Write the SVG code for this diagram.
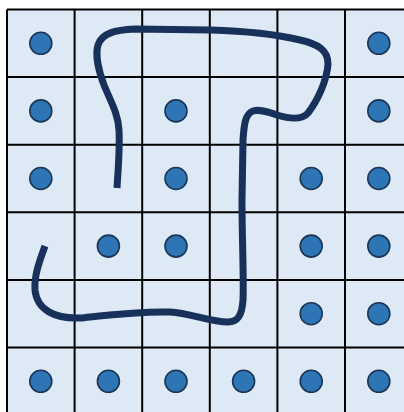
<svg xmlns="http://www.w3.org/2000/svg" width="404" height="412" viewBox="0 0 404 412">
<defs>
<style>
.grid{stroke:#000;stroke-width:2;fill:none}
.dot{fill:#2e75b6;stroke:#1c3556;stroke-width:1.6}
.curve{fill:none;stroke:#18315a;stroke-width:7;stroke-linecap:butt;stroke-linejoin:round}
</style>
</defs>
<rect x="0" y="0" width="404" height="412" fill="#ffffff"/>
<g id="board">
<rect x="7" y="9.5" width="406" height="406" fill="#dee9f6"/>
<path class="grid" d="M7,9.5V412 M74.6,9.5V412 M142.2,9.5V412 M209.8,9.5V412 M277.4,9.5V412 M345,9.5V412 M7,9.5H404 M7,77.1H404 M7,144.7H404 M7,212.3H404 M7,279.9H404 M7,347.5H404"/>
</g>
<g id="dots">
<g id="r0"><circle class="dot" cx="40.8" cy="43.3" r="11"/><circle class="dot" cx="378.8" cy="43.3" r="11"/></g>
<g id="r1"><circle class="dot" cx="40.8" cy="110.9" r="11"/><circle class="dot" cx="176" cy="110.9" r="11"/><circle class="dot" cx="378.8" cy="110.9" r="11"/></g>
<g id="r2"><circle class="dot" cx="40.8" cy="178.5" r="11"/><circle class="dot" cx="176" cy="178.5" r="11"/><circle class="dot" cx="311.2" cy="178.5" r="11"/><circle class="dot" cx="378.8" cy="178.5" r="11"/></g>
<g id="r3"><circle class="dot" cx="108.4" cy="246.1" r="11"/><circle class="dot" cx="176" cy="246.1" r="11"/><circle class="dot" cx="311.2" cy="246.1" r="11"/><circle class="dot" cx="378.8" cy="246.1" r="11"/></g>
<g id="r4"><circle class="dot" cx="311.2" cy="313.7" r="11"/><circle class="dot" cx="378.8" cy="313.7" r="11"/></g>
<g id="r5"><circle class="dot" cx="40.8" cy="381.3" r="11"/><circle class="dot" cx="108.4" cy="381.3" r="11"/><circle class="dot" cx="176" cy="381.3" r="11"/><circle class="dot" cx="243.6" cy="381.3" r="11"/><circle class="dot" cx="311.2" cy="381.3" r="11"/><circle class="dot" cx="378.8" cy="381.3" r="11"/></g>
</g>
<g id="connectors">
<path class="curve" d="M117,188 C118,170 120,150 119,130 C118,113 110,100 104,85 C99,72 95,55 98,45 C102,33 115,30 135,29 L210,30 C245,31 275,34 300,40 C318,44 328,50 328,64 C327,80 318,100 308,113 C302,120 290,119 277,115 C268,112 260,109 253,111 C245,114 244,125 243,140 L242,200 C242,240 244,280 243,300 C242,315 238,322 228,322 C210,322 190,313 170,312 C140,311 100,316 80,318 C55,319 37,310 35,290 C34,275 40,260 45,246"/>
</g>
</svg>
